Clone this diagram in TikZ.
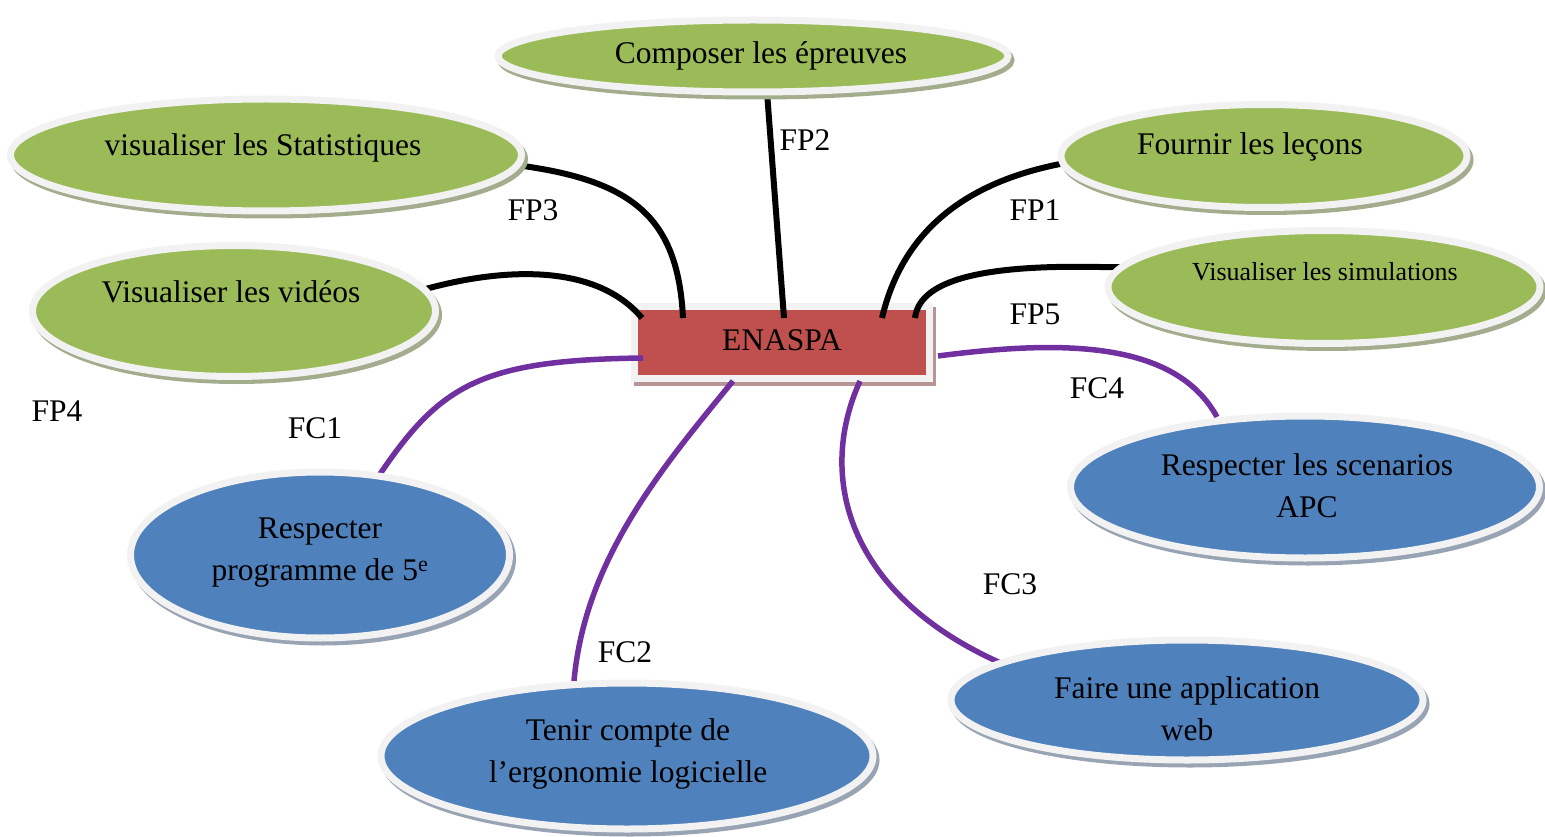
\documentclass[tikz,border=0pt]{standalone}
\usepackage{fontspec}
\setmainfont{Liberation Serif}
\usetikzlibrary{shapes.geometric,shadows,calc}
\definecolor{vert}{HTML}{9BBB59}
\definecolor{bleu}{HTML}{4F81BD}
\definecolor{rouge}{HTML}{C0504D}
\definecolor{ring}{HTML}{F2F2F2}
\definecolor{violet}{HTML}{7030A0}
\definecolor{gsh}{HTML}{A3AD8E}
\definecolor{bsh}{HTML}{98A4B4}
\definecolor{rsh}{HTML}{B89494}
\pgfdeclarelayer{bg}
\pgfsetlayers{bg,main}
\tikzset{
  ell/.style={ellipse, draw=ring, line width=7pt, inner sep=0pt, outer sep=0pt},
  gell/.style={ell, fill=vert, drop shadow={shadow xshift=3pt, shadow yshift=-4pt, fill=gsh, draw=gsh, line width=7pt, opacity=1}},
  bell/.style={ell, fill=bleu, drop shadow={shadow xshift=3pt, shadow yshift=-4pt, fill=bsh, draw=bsh, line width=7pt, opacity=1}},
  boxstyle/.style={rectangle, draw=ring, fill=rouge, line width=7pt, minimum width=295pt, minimum height=72pt, inner sep=0pt, outer sep=0pt, drop shadow={shadow xshift=3pt, shadow yshift=-4pt, fill=rsh, draw=rsh, line width=7pt, opacity=1}},
  txt/.style={inner sep=0pt, align=center, font=\fontsize{31.5}{42}\selectfont},
  lbl/.style={inner sep=0pt, anchor=base, font=\fontsize{31.5}{38}\selectfont},
  fp/.style={line width=6pt, black},
  fc/.style={line width=5.5pt, violet}
}
\begin{document}
\begin{tikzpicture}[x=1pt,y=-1pt]
\useasboundingbox (0,0) rectangle (1545,837);

\begin{pgfonlayer}{bg}
\node[boxstyle] (box) at (782,342) {};
\end{pgfonlayer}
\node[txt] (boxT) at (782,340) {ENASPA};

% green ellipses
\node[gell, minimum width=510pt, minimum height=72pt] (compose) at (753,56) {};
\node[gell, minimum width=511pt, minimum height=112pt] (stat) at (266,155) {};
\node[gell, minimum width=406pt, minimum height=103pt] (lecons) at (1264,156) {};
\node[gell, minimum width=403pt, minimum height=131pt] (video) at (234,311) {};
\node[gell, minimum width=432pt, minimum height=113pt] (simul) at (1324,287) {};
% blue ellipses
\node[bell, minimum width=379pt, minimum height=166pt] (prog) at (320,555) {};
\node[bell, minimum width=492pt, minimum height=146pt] (ergo) at (627,756) {};
\node[bell, minimum width=472pt, minimum height=120pt] (web) at (1187,700) {};
\node[bell, minimum width=469pt, minimum height=142pt] (apc) at (1305,487) {};

% texts in ellipses
\node[lbl] (composeT) at (761,64) {Composer les épreuves};
\node[lbl] (statT) at (263,156) {visualiser les Statistiques};
\node[lbl] (leconsT) at (1250,155) {Fournir les leçons};
\node[lbl] (videoT) at (231,302) {Visualiser les vidéos};
\node[lbl, font=\fontsize{26}{32}\selectfont] (simulT) at (1325,280) {Visualiser les simulations};
\node[txt] (progT) at (320,553) {Respecter\\programme de 5\textsuperscript{e}};
\node[txt] (ergoT) at (628,754) {Tenir compte de\\l’ergonomie logicielle};
\node[txt] (webT) at (1187,709) {Faire une application\\web};
\node[txt] (apcT) at (1307,486) {Respecter les scenarios\\APC};

% connectors
\begin{pgfonlayer}{bg}
\draw[fp] ($(stat.center)+(250,10)$) .. controls (630,180) and (678,215) .. ($(box.north west)+(48.5,12)$);
\draw[fp] ($(compose.center)+(14,36)$) -- ($(box.north)+(2,12)$);
\draw[fp] ($(lecons.center)+(-204,8)$) .. controls (980,180) and (905,220) .. ($(box.north)+(100,12)$);
\draw[fp] ($(simul.center)+(-190,-20)$) -- (1100,267) .. controls (1000,265) and (920,275) .. ($(box.north east)+(-14.5,12)$);
\draw[fp] ($(video.center)+(188,-21)$) .. controls (500,268) and (595,262) .. ($(box.north west)+(7.5,12)$);
\draw[fc] ($(box.west)+(8.5,16)$) .. controls (480,360) and (440,385) .. ($(prog.center)+(58,-78)$);
\draw[fc] ($(box.south)+(-49,3)$) .. controls (660,470) and (585,560) .. ($(ergo.center)+(-53,-75)$);
\draw[fc] ($(box.south)+(78,3)$) .. controls (815,480) and (850,600) .. ($(web.center)+(-177,-33)$);
\draw[fc] ($(box.east)+(8.5,14)$) .. controls (1060,340) and (1175,340) .. ($(apc.center)+(-88,-70)$);
\end{pgfonlayer}

% connector labels
\node[lbl] (fp2) at (805,151) {FP2};
\node[lbl] (fp3) at (533,221) {FP3};
\node[lbl] (fp1) at (1035,221) {FP1};
\node[lbl] (fp5) at (1035,324) {FP5};
\node[lbl] (fp4) at (57,421) {FP4};
\node[lbl] (fc1) at (315,438) {FC1};
\node[lbl] (fc2) at (625,662) {FC2};
\node[lbl] (fc3) at (1010,594) {FC3};
\node[lbl] (fc4) at (1097,398) {FC4};
\end{tikzpicture}
\end{document}
